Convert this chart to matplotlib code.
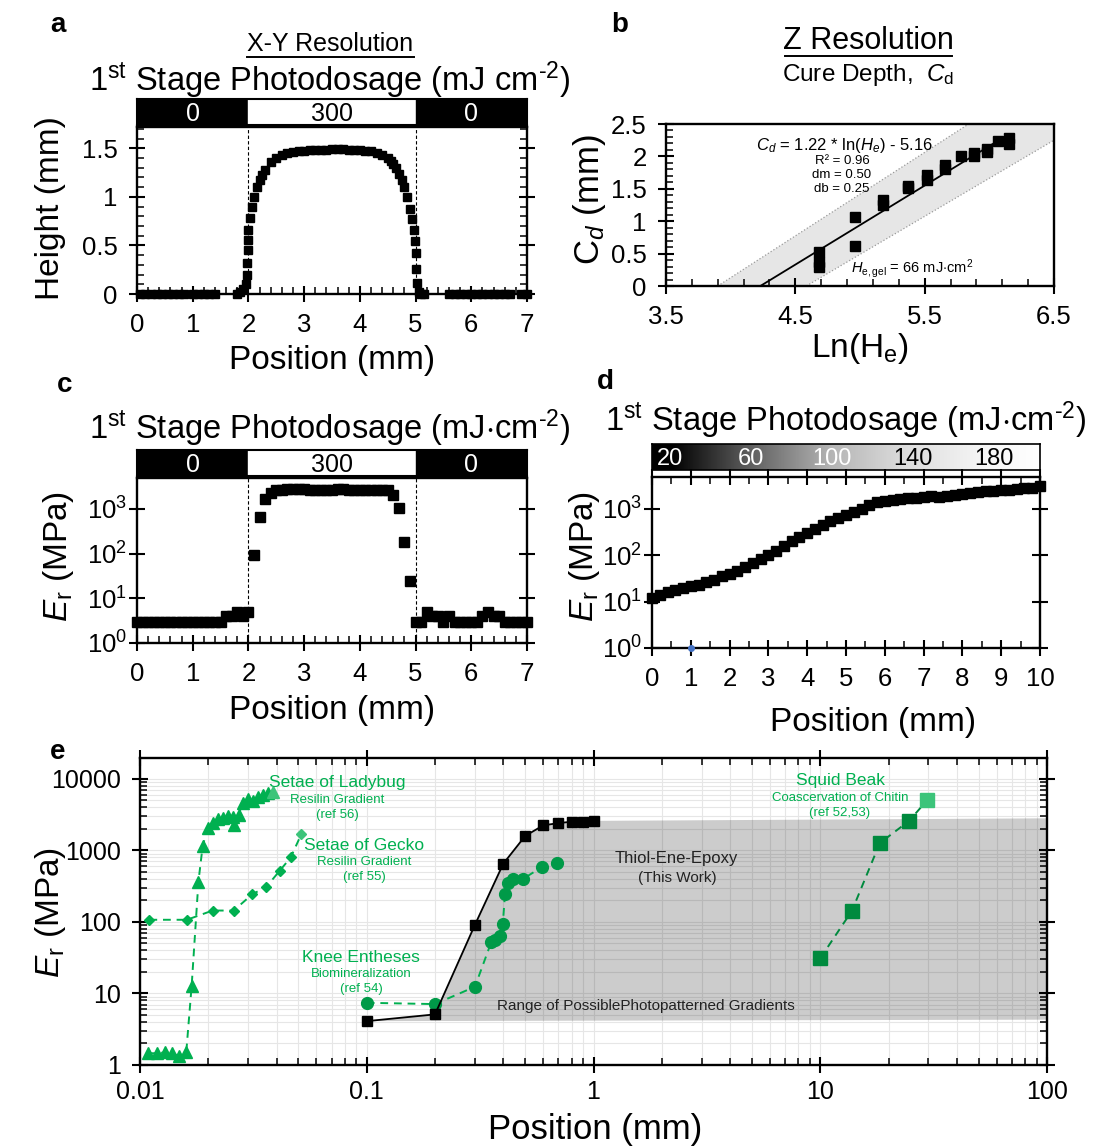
"""Photopatterned gradient figure: resolution (a, b), modulus profiles (c, d)
and comparison against natural material gradients (e)."""
import numpy as np
import matplotlib.pyplot as plt
from matplotlib.colors import LinearSegmentedColormap
from matplotlib.lines import Line2D
from matplotlib.ticker import MultipleLocator, FixedLocator, LogLocator, NullFormatter

plt.rcParams["font.family"] = ["Liberation Sans", "DejaVu Sans"]
plt.rcParams["mathtext.fontset"] = "custom"
plt.rcParams["mathtext.rm"] = "Liberation Sans"
plt.rcParams["mathtext.it"] = "Liberation Sans:italic"
plt.rcParams["mathtext.bf"] = "Liberation Sans:bold"

W, H = 1097, 1147
GREEN = "#00b050"
DKGREEN = "#009a48"
LTGREEN = "#3cc47a"

# ---------------------------------------------------------------- data
# (a) printed line height profile
pos_a = [0.05, 0.15, 0.25, 0.35, 0.45, 0.55, 0.65, 0.75, 0.85,
         1.0, 1.1, 1.2, 1.3, 1.4,
         1.8, 1.85, 1.9, 1.95, 1.97, 1.98, 1.99, 2.0, 2.0,
         2.03, 2.06, 2.1, 2.15, 2.2, 2.25, 2.3, 2.4, 2.5, 2.6, 2.7, 2.8, 2.9,
         3.0, 3.1, 3.2, 3.3, 3.4, 3.5, 3.6, 3.7, 3.8, 3.9, 4.0, 4.1, 4.2,
         4.3, 4.4, 4.5, 4.55, 4.6, 4.65, 4.7, 4.75, 4.8, 4.85, 4.9, 4.94,
         4.97, 4.99, 5.0, 5.01, 5.03, 5.06, 5.1, 5.15,
         5.6, 5.7, 5.8, 5.9, 6.0, 6.1, 6.2, 6.3, 6.4, 6.5, 6.6, 6.7, 6.9, 7.0]
height_a = [0, 0, 0, 0, 0, 0, 0, 0, 0,
            0, 0, 0, 0, 0,
            0.0, 0.02, 0.05, 0.10, 0.20, 0.32, 0.45, 0.56, 0.66,
            0.78, 0.90, 1.00, 1.10, 1.17, 1.23, 1.28, 1.36, 1.40, 1.43, 1.45, 1.46, 1.47,
            1.47, 1.48, 1.48, 1.48, 1.48, 1.49, 1.49, 1.49, 1.48, 1.48, 1.48, 1.47, 1.47,
            1.45, 1.43, 1.40, 1.37, 1.34, 1.30, 1.24, 1.17, 1.10, 1.00, 0.88, 0.77,
            0.66, 0.55, 0.42, 0.26, 0.11, 0.02, 0.0, 0.0,
            0, 0, 0, 0, 0, 0, 0, 0, 0, 0, 0, 0, 0, 0]
dose_edges = [0, 2, 5, 7]
dose_vals = [0, 300, 0]

# (b) cure depth vs ln(exposure)
ln_he = [4.68, 4.68, 4.68, 4.96, 4.96, 5.18, 5.18, 5.37, 5.37, 5.52, 5.52,
         5.66, 5.66, 5.78, 5.88, 5.88, 5.98, 5.98, 6.07, 6.15, 6.15]
cure_depth = [0.52, 0.375, 0.30, 1.07, 0.62, 1.33, 1.25, 1.55, 1.51, 1.71, 1.64,
              1.87, 1.81, 2.00, 2.06, 2.01, 2.12, 2.07, 2.23, 2.28, 2.19]
fit_slope, fit_icept = 1.22, -5.16
fit_x = [4.23, 6.15]
band_hi_x, band_hi_y = [3.90, 5.84], [0.0, 2.5]
band_lo_x, band_lo_y = [4.585, 6.5], [0.0, 2.25]

# (c) modulus across the binary pattern, 0.1 mm steps
pos_c = np.round(np.arange(0, 7.01, 0.1), 1)
er_c = [3, 3, 3, 3, 3, 3, 3, 3, 3, 3, 3, 3, 3, 3, 3, 3,
        4, 4, 5, 4, 5,
        95, 650, 1700, 2300, 2600, 2700, 2800, 2800, 2800, 2800, 2700, 2700,
        2700, 2700, 2700, 2800, 2800, 2700, 2600, 2700, 2700, 2700, 2700, 2700,
        2600, 2000, 1050, 180, 24,
        3, 3, 5, 4, 4, 3, 4, 3, 3, 3, 3, 3, 4, 5, 4, 4, 3, 3, 3, 3, 3]

# (d) modulus along the grayscale gradient, 0.2 mm steps
pos_d = np.round(np.linspace(0, 10, 51), 1)
er_d = [12, 14, 16, 18, 20, 22, 23, 26, 30, 35, 40, 46, 56, 68, 82, 100,
        125, 160, 200, 250, 310, 370, 450, 550, 640, 730, 850, 1000, 1200,
        1400, 1500, 1580, 1650, 1700, 1740, 1780, 1900, 1850, 1950, 2050,
        2150, 2200, 2300, 2400, 2450, 2550, 2600, 2700, 2800, 2900, 3100]
grad_ticks = [20, 60, 100, 140, 180]
grad_range = [11, 203]

# (e) comparison with natural gradients
tee_x = [0.1, 0.2, 0.3, 0.4, 0.5, 0.6, 0.7, 0.8, 0.9, 1.0]
tee_y = [4.1, 5.1, 91, 650, 1590, 2230, 2400, 2510, 2510, 2580]
range_top, range_bot = 2800, 4.3

ladybug_x = [0.0108, 0.0119, 0.0129, 0.0138, 0.0149, 0.0160, 0.0169, 0.0181,
             0.0189, 0.0199, 0.0209, 0.0220, 0.0232, 0.0244, 0.0256, 0.0261,
             0.0272, 0.0284, 0.0299, 0.0315, 0.0331, 0.0348, 0.0366, 0.0386]
ladybug_y = [1.46, 1.46, 1.50, 1.46, 1.34, 1.53, 12.9, 366, 1156, 2040, 2400,
             2700, 2830, 3000, 2950, 2270, 3150, 4580, 5130, 4900, 5600, 5900,
             6300, 6450]
gecko_x = [0.0110, 0.0161, 0.0209, 0.0259, 0.0313, 0.0360, 0.0413, 0.0462, 0.0515]
gecko_y = [107, 107, 144, 144, 244, 306, 517, 795, 1690]
knee_x = [0.1, 0.2, 0.30, 0.354, 0.368, 0.386, 0.398, 0.407, 0.418, 0.44, 0.49, 0.59, 0.69]
knee_y = [7.4, 7.1, 12.4, 52, 56, 63, 92, 243, 345, 400, 400, 580, 660]
squid_x = [10.0, 13.8, 18.3, 24.7, 29.7]
squid_y = [31, 143, 1260, 2590, 5080]

# ---------------------------------------------------------------- helpers
fig = plt.figure(figsize=(W / 100, H / 100), dpi=100)


def box(l, t, r, b):
    return [l / W, 1 - b / H, (r - l) / W, (b - t) / H]


def ftext(x, y, s, **kw):
    kw.setdefault("ha", "center")
    kw.setdefault("va", "center")
    return fig.text(x / W, 1 - y / H, s, **kw)


def style(ax, size=18.5, pad=8):
    for sp in ax.spines.values():
        sp.set_linewidth(1.7)
    ax.tick_params(which="major", direction="inout", length=12, width=1.5,
                   labelsize=size, pad=pad)
    ax.tick_params(which="minor", direction="in", length=5, width=1.1)


def underline(x0, x1, y):
    fig.add_artist(Line2D([x0 / W, x1 / W], [1 - y / H, 1 - y / H],
                          transform=fig.transFigure, color="k", lw=1.4))


def dose_bar(rect):
    cb = fig.add_axes(rect)
    for x0, x1, v in zip(dose_edges[:-1], dose_edges[1:], dose_vals):
        fill = "white" if v > 0 else "black"
        ink = "black" if v > 0 else "white"
        cb.axvspan(x0, x1, color=fill)
        cb.text((x0 + x1) / 2, 0.42, f"{v}", color=ink, ha="center",
                va="center", fontsize=18)
    cb.set_xlim(dose_edges[0], dose_edges[-1])
    cb.set_ylim(0, 1)
    cb.set_xticks([])
    cb.set_yticks([])
    for sp in cb.spines.values():
        sp.set_linewidth(1.5)


TITLE_A = r"1$^{\mathrm{st}}$ Stage Photodosage (mJ cm$^{\text{-2}}$)"
TITLE_C = r"1$^{\mathrm{st}}$ Stage Photodosage (mJ$\cdot$cm$^{\text{-2}}$)"
ER = r"$\mathit{E}_{\mathrm{r}}$ (MPa)"
LBL = 24

# ---------------------------------------------------------------- (a)
ftext(58, 25, "a", fontsize=20, fontweight="bold")
ftext(330, 44, "X-Y Resolution", fontsize=18)
underline(247, 414, 57)
ftext(330, 80, TITLE_A, fontsize=23.5)
dose_bar(box(137, 99, 527, 125))
ax = fig.add_axes(box(137, 127, 527, 294))
style(ax)
ax.plot(pos_a, height_a, "s", color="k", ms=5.8, clip_on=False, zorder=3)
for xb in dose_edges[1:-1]:
    ax.axvline(xb, color="k", lw=0.8, ls=(0, (3, 2)), zorder=1)
ax.set_xlim(0, 7)
ax.set_ylim(0, 1.72)
ax.xaxis.set_major_locator(MultipleLocator(1))
ax.xaxis.set_minor_locator(MultipleLocator(0.2))
ax.set_yticks([0, 0.5, 1, 1.5], ["0", "0.5", "1", "1.5"])
ax.yaxis.set_minor_locator(MultipleLocator(0.1))
ax.tick_params(which="both", right=True)
ftext(332, 360, "Position (mm)", fontsize=LBL)
ftext(50, 208, "Height (mm)", fontsize=LBL, rotation=90)

# ---------------------------------------------------------------- (b)
ftext(620, 25, "b", fontsize=20, fontweight="bold")
ftext(868, 41, "Z Resolution", fontsize=22)
underline(785, 952, 56)
ftext(868, 75, r"Cure Depth,  $\mathit{C}_{\mathrm{d}}$", fontsize=17.5)
ax = fig.add_axes(box(666, 124, 1054, 286))
style(ax)
ax.fill(band_hi_x + [6.5, 6.5] + band_lo_x[::-1],
        band_hi_y + [2.5, band_lo_y[1]] + band_lo_y[::-1],
        color="#e6e6e6", lw=0, zorder=1)
ax.plot(band_hi_x, band_hi_y, color="#9a9a9a", lw=0.9, ls=":", zorder=2)
ax.plot(band_lo_x, band_lo_y, color="#9a9a9a", lw=0.9, ls=":", zorder=2)
fit_y = [fit_slope * x + fit_icept for x in fit_x]
ax.plot(fit_x, fit_y, color="k", lw=1.3, zorder=3)
ax.plot(ln_he, cure_depth, "s", color="k", ms=7, zorder=4)
ax.text(4.88, 2.17, r"$C_d$ = 1.22 * ln($H_e$) - 5.16", fontsize=12,
        ha="center", va="center")
for yy, s in zip([1.93, 1.71, 1.49], ["R² = 0.96", "dm = 0.50", "db = 0.25"]):
    ax.text(4.86, yy, s, fontsize=9.5, ha="center", va="center")
ax.text(5.40, 0.27, r"$H_{\mathrm{e,gel}}$ = 66 mJ$\cdot$cm$^{2}$", fontsize=10.5,
        ha="center", va="center")
ax.set_xlim(3.5, 6.5)
ax.set_ylim(0, 2.5)
ax.set_xticks([3.5, 4.5, 5.5, 6.5], ["3.5", "4.5", "5.5", "6.5"])
ax.xaxis.set_minor_locator(FixedLocator(np.arange(3.5, 6.51, 0.2)))
ax.set_yticks([0, 0.5, 1, 1.5, 2, 2.5], ["0", "0.5", "1", "1.5", "2", "2.5"])
ax.yaxis.set_minor_locator(MultipleLocator(0.1))
ftext(860, 348, r"Ln(H$_{\mathrm{e}}$)", fontsize=LBL)
ftext(590, 200, r"C$_{\mathit{d}}$ (mm)", fontsize=LBL + 1, rotation=90)

# ---------------------------------------------------------------- (c)
ftext(65, 385, "c", fontsize=20, fontweight="bold")
ftext(330, 428, TITLE_C, fontsize=23.5)
dose_bar(box(137, 450, 527, 476))
ax = fig.add_axes(box(137, 478, 527, 643))
style(ax)
ax.semilogy(pos_c, er_c, "s", color="k", ms=6.5, clip_on=False, zorder=3)
for xb in dose_edges[1:-1]:
    ax.axvline(xb, color="k", lw=0.8, ls=(0, (3, 2)), zorder=1)
ax.set_xlim(0, 7)
ax.set_ylim(1, 4900)
ax.xaxis.set_major_locator(MultipleLocator(1))
ax.xaxis.set_minor_locator(MultipleLocator(0.2))
ax.yaxis.set_major_locator(FixedLocator([1, 10, 100, 1000]))
ax.yaxis.set_minor_locator(LogLocator(subs=np.arange(2, 10)))
ax.yaxis.set_minor_formatter(NullFormatter())
ax.tick_params(which="both", right=True)
ax.tick_params(axis="y", pad=1)
ftext(332, 710, "Position (mm)", fontsize=LBL)
ftext(58, 556, ER, fontsize=LBL, rotation=90)

# ---------------------------------------------------------------- (d)
ftext(605, 382, "d", fontsize=20, fontweight="bold")
ftext(846, 420, TITLE_C, fontsize=23.5)
cb = fig.add_axes(box(652, 444, 1040, 470))
gray = LinearSegmentedColormap.from_list(
    "dose", [(0, "black"), (0.05, "black"), (0.25, "#5e5e5e"),
             (0.46, "#b4b4b4"), (0.66, "#dedede"), (0.88, "#f8f8f8"), (1, "white")])
cb.imshow(np.linspace(0, 1, 256)[None, :], cmap=gray, aspect="auto",
          extent=(grad_range[0], grad_range[1], 0, 1))
for v in grad_ticks:
    cb.text(v, 0.42, f"{v}", color="white" if v <= 100 else "black",
            ha="center", va="center", fontsize=17)
cb.set_xlim(*grad_range)
cb.set_xticks([])
cb.set_yticks([])
for sp in cb.spines.values():
    sp.set_linewidth(1.2)
ax = fig.add_axes(box(652, 477, 1040, 648))
style(ax)
ax.semilogy(pos_d, er_d, "s", color="k", ms=7, clip_on=False, zorder=3)
ax.plot([1], [1], "o", color="#4472c4", ms=4, clip_on=False, zorder=4)
ax.set_xlim(0, 10)
ax.set_ylim(1, 4900)
ax.xaxis.set_major_locator(MultipleLocator(1))
ax.xaxis.set_minor_locator(MultipleLocator(0.5))
ax.yaxis.set_major_locator(FixedLocator([1, 10, 100, 1000]))
ax.yaxis.set_minor_locator(LogLocator(subs=np.arange(2, 10)))
ax.yaxis.set_minor_formatter(NullFormatter())
ax.tick_params(which="both", right=True, top=True)
ax.tick_params(axis="y", pad=1)
ftext(873, 722, "Position (mm)", fontsize=LBL)
ftext(585, 556, ER, fontsize=LBL, rotation=90)

# ---------------------------------------------------------------- (e)
ftext(58, 752, "e", fontsize=20, fontweight="bold")
ax = fig.add_axes(box(140, 758, 1047, 1065))
style(ax, size=18, pad=5)
ax.tick_params(axis="y", pad=8)
ax.set_xscale("log")
ax.set_yscale("log")
ax.set_axisbelow(True)
ax.grid(True, which="both", color="#e6e6e6", lw=0.8)
ax.fill(tee_x + [100, 100], tee_y + [range_top, range_bot],
        color="k", alpha=0.2, lw=0, zorder=1)
ax.plot(tee_x, tee_y, "-s", color="k", lw=1.3, ms=7, zorder=4)

dash = (0, (4, 3))
ax.plot(ladybug_x, ladybug_y, color=GREEN, lw=1.4, ls=dash, zorder=3)
ax.plot(ladybug_x[:-1], ladybug_y[:-1], "^", color=GREEN, ms=9, zorder=3)
ax.plot(ladybug_x[-1:], ladybug_y[-1:], "^", color=LTGREEN, ms=9, zorder=3)
ax.plot(gecko_x, gecko_y, color=GREEN, lw=1.4, ls=dash, zorder=3)
ax.plot(gecko_x[:-1], gecko_y[:-1], "D", color=GREEN, ms=5.5, zorder=3)
ax.plot(gecko_x[-1:], gecko_y[-1:], "D", color=LTGREEN, ms=5.5, zorder=3)
ax.plot(knee_x, knee_y, color=GREEN, lw=1.4, ls=dash, zorder=3)
ax.plot(knee_x, knee_y, "o", color=DKGREEN, ms=8.5, zorder=3)
ax.plot(squid_x, squid_y, color="#008a3e", lw=1.4, ls=dash, zorder=3)
ax.plot(squid_x[:-1], squid_y[:-1], "s", color="#008a3e", ms=10, zorder=3)
ax.plot(squid_x[-1:], squid_y[-1:], "s", color=LTGREEN, ms=10, zorder=3)

ax.set_xlim(0.01, 100)
ax.set_ylim(1, 10 ** 4.29)
ax.set_xticks([0.01, 0.1, 1, 10, 100], ["0.01", "0.1", "1", "10", "100"])
ax.set_yticks([1, 10, 100, 1000, 10000], ["1", "10", "100", "1000", "10000"])
ax.xaxis.set_minor_locator(LogLocator(subs=np.arange(2, 10)))
ax.yaxis.set_minor_locator(LogLocator(subs=np.arange(2, 10)))
ax.xaxis.set_minor_formatter(NullFormatter())
ax.yaxis.set_minor_formatter(NullFormatter())
ax.tick_params(which="both", right=True, top=True)

labels_e = [
    (337, 783, 800, 815, "Setae of Ladybug", "Resilin Gradient", "(ref 56)"),
    (364, 845, 862, 877, "Setae of Gecko", "Resilin Gradient", "(ref 55)"),
    (361, 957, 974, 989, "Knee Entheses", "Biomineralization", "(ref 54)"),
    (840, 781, 798, 813, "Squid Beak", "Coascervation of Chitin", "(ref 52,53)"),
]
for x, y0, y1, y2, name, how, ref in labels_e:
    ftext(x, y0, name, color=GREEN, fontsize=12.5)
    ftext(x, y1, how, color=GREEN, fontsize=9.5)
    ftext(x, y2, ref, color=GREEN, fontsize=9.5)
ftext(676, 858, "Thiol-Ene-Epoxy", color="#222222", fontsize=12)
ftext(677, 878, "(This Work)", color="#222222", fontsize=11)
ftext(646, 1006, "Range of PossiblePhotopatterned Gradients", color="#222222",
      fontsize=11)
ftext(595, 1130, "Position (mm)", fontsize=25)
ftext(50, 912, ER, fontsize=LBL, rotation=90)

fig.savefig("out.png", dpi=100)
